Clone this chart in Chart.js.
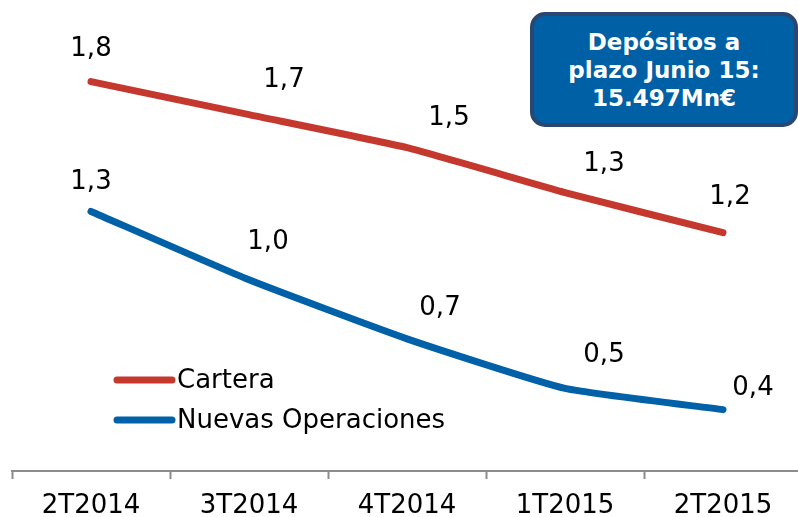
<!DOCTYPE html>
<html>
<head>
<meta charset="utf-8">
<script src="https://cdn.jsdelivr.net/npm/chart.js@4/dist/chart.umd.min.js"></script>
<style>
  html, body { margin: 0; padding: 0; background: #fff; overflow: hidden; }
  #wrap { position: relative; width: 806px; height: 533px; }
  #note {
    position: absolute; left: 530px; top: 12px; width: 268px; height: 115px;
    box-sizing: border-box; border: 4px solid #2a4770; border-radius: 15px;
    background: #0060a6; color: #fff; font: bold 23px "DejaVu Sans", sans-serif;
    line-height: 28px; text-align: center;
    display: flex; align-items: center; justify-content: center;
  }
</style>
</head>
<body>
<div id="wrap">
  <canvas id="chart" width="806" height="533"></canvas>
  <div id="note">Depósitos a<br>plazo Junio 15:<br>15.497Mn€</div>
</div>
<script>
// datos
const quarters = ["2T2014", "3T2014", "4T2014", "1T2015", "2T2015"];
const cartera = [1.81, 1.67, 1.53, 1.34, 1.17];
const nuevasOperaciones = [1.26, 0.97, 0.72, 0.51, 0.42];
const seriesNames = ["Cartera", "Nuevas Operaciones"];

// posición de las etiquetas respecto al punto (como en el original)
const labelOffsets = [
  [[0, -32], [35, -34], [42, -29], [39, -28], [7, -35]],
  [[0, -29], [19, -38], [33, -31], [39, -33], [30, -21]],
];

const FONT = '"DejaVu Sans", sans-serif';

// etiquetas de valor
const valueLabels = {
  id: "valueLabels",
  afterDatasetsDraw(chart) {
    const ctx = chart.ctx;
    ctx.save();
    ctx.font = "26px " + FONT;
    ctx.fillStyle = "#000";
    ctx.textAlign = "center";
    ctx.textBaseline = "middle";
    chart.data.datasets.forEach((ds, i) => {
      chart.getDatasetMeta(i).data.forEach((pt, j) => {
        const off = labelOffsets[i][j];
        const txt = ds.data[j].toFixed(1).replace(".", ",");
        ctx.fillText(txt, pt.x + off[0], pt.y + off[1]);
      });
    });
    ctx.restore();
  },
};

// leyenda dentro del área
const insideLegend = {
  id: "insideLegend",
  afterDraw(chart) {
    const ctx = chart.ctx;
    ctx.save();
    ctx.font = "26px " + FONT;
    ctx.textBaseline = "middle";
    chart.data.datasets.forEach((ds, i) => {
      const y = 380 + i * 40;
      ctx.strokeStyle = ds.borderColor;
      ctx.lineWidth = 7;
      ctx.lineCap = "round";
      ctx.beginPath();
      ctx.moveTo(117, y);
      ctx.lineTo(172, y);
      ctx.stroke();
      ctx.fillStyle = "#000";
      ctx.fillText(ds.label, 177, y + 1);
    });
    ctx.restore();
  },
};

new Chart(document.getElementById("chart"), {
  type: "line",
  data: {
    labels: quarters,
    datasets: [
      {
        label: seriesNames[0],
        data: cartera,
        borderColor: "#c4382e",
        borderWidth: 7,
        borderCapStyle: "round",
        pointRadius: 0,
        tension: 0.15,
      },
      {
        label: seriesNames[1],
        data: nuevasOperaciones,
        borderColor: "#0061a8",
        borderWidth: 7,
        borderCapStyle: "round",
        pointRadius: 0,
        tension: 0.15,
      },
    ],
  },
  options: {
    responsive: false,
    animation: false,
    layout: { padding: { left: 12, right: 4, top: 0, bottom: 0 } },
    plugins: { legend: { display: false }, tooltip: { enabled: false } },
    scales: {
      x: {
        offset: true,
        grid: {
          offset: true,
          drawOnChartArea: false,
          drawTicks: true,
          tickLength: 8,
          tickWidth: 2,
          color: "#8c8c8c",
        },
        border: { color: "#8c8c8c", width: 2 },
        ticks: {
          color: "#000",
          font: { family: FONT, size: 26, lineHeight: 1.0 },
          padding: 14,
          maxRotation: 0,
        },
      },
      y: {
        display: false,
        min: 0.16,
        max: 2.156,
      },
    },
  },
  plugins: [valueLabels, insideLegend],
});
</script>
</body>
</html>
